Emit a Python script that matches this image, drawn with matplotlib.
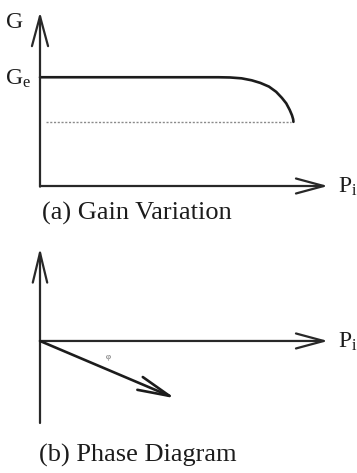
import numpy as np
import matplotlib
matplotlib.use("Agg")
import matplotlib.pyplot as plt

plt.rcParams["font.family"] = ["Liberation Serif", "DejaVu Serif"]
plt.rcParams["mathtext.fontset"] = "custom"
plt.rcParams["mathtext.rm"] = "Liberation Serif"
plt.rcParams["mathtext.it"] = "Liberation Serif:italic"

# gain vs input power (schematic units)
p_in = [0.0, 6.2, 6.6, 7.0, 7.35, 7.65, 7.95, 8.2, 8.4, 8.55, 8.67, 8.75, 8.79, 8.8]
gain = [5.0, 5.0, 4.99, 4.95, 4.86, 4.74, 4.57, 4.33, 4.05, 3.8, 3.5, 3.25, 3.07, 2.95]
g_sat = 2.95
sat_span = [0.2, 8.7]

# output phasor relative to input
phasor_mag = 5.1
phasor_deg = -23.0

W, H = 357, 473
ink = "#1c1c1c"
axis_ink = "#282828"


def fx(x):
    return x / W


def fy(y):
    return 1 - y / H


def arrow(ax, start, end, hl, hw, color=axis_ink, lw=1.6):
    ax.annotate("", xy=end, xytext=start,
                arrowprops=dict(arrowstyle=f"->, head_length={hl}, head_width={hw}",
                                color=color, lw=lw, shrinkA=0, shrinkB=0),
                annotation_clip=False)


fig = plt.figure(figsize=(W / 100, H / 100), dpi=100)

# (a) gain variation
ax1 = fig.add_axes([fx(40), fy(186), 288 / W, 174 / H])
ax1.set_xlim(0, 10)
ax1.set_ylim(0, 8)
ax1.axis("off")
arrow(ax1, (0, -0.03), (0, 8), 2.15, 0.58)
arrow(ax1, (0, 0), (10, 0), 2.0, 0.54)
ax1.plot(p_in, gain, color=ink, lw=1.9, solid_capstyle="round",
         solid_joinstyle="round", clip_on=False)
ax1.plot(sat_span, [g_sat, g_sat], color="#8a8a8a", lw=1.0, ls=(0, (1.5, 1.2)), clip_on=False)

# (b) phase diagram
ax2 = fig.add_axes([fx(40), fy(423), 288 / W, 175 / H])
ax2.set_xlim(0, 10)
ax2.set_ylim(-2.85, 3.23)
ax2.axis("off")
arrow(ax2, (0, -2.85), (0, 3.23), 2.15, 0.52)
arrow(ax2, (0, 0), (10, 0), 2.0, 0.54)
ang = np.deg2rad(phasor_deg)
tip = (phasor_mag * np.cos(ang), phasor_mag * np.sin(ang))
arrow(ax2, (0, 0), tip, 2.3, 0.5, color=ink, lw=1.9)

fs = 17
fig.text(fx(15), fy(23), "G", fontsize=fs, color=ink, ha="center", va="center")
fig.text(fx(5), fy(79), r"G$_\mathrm{e}$", fontsize=fs, color=ink, ha="left", va="center")
fig.text(fx(338), fy(187), r"P$_\mathrm{i}$", fontsize=fs, color=ink, ha="left", va="center")
fig.text(fx(338), fy(342), r"P$_\mathrm{i}$", fontsize=fs, color=ink, ha="left", va="center")
fig.text(fx(108), fy(357), "φ", fontsize=6, color="#555555", ha="center", va="center")

fig.text(fx(42), fy(213), "(a) Gain Variation", fontsize=19, color=ink, ha="left", va="center")
fig.text(fx(39), fy(455), "(b) Phase Diagram", fontsize=19, color=ink, ha="left", va="center")

fig.savefig("out.png", dpi=100)
